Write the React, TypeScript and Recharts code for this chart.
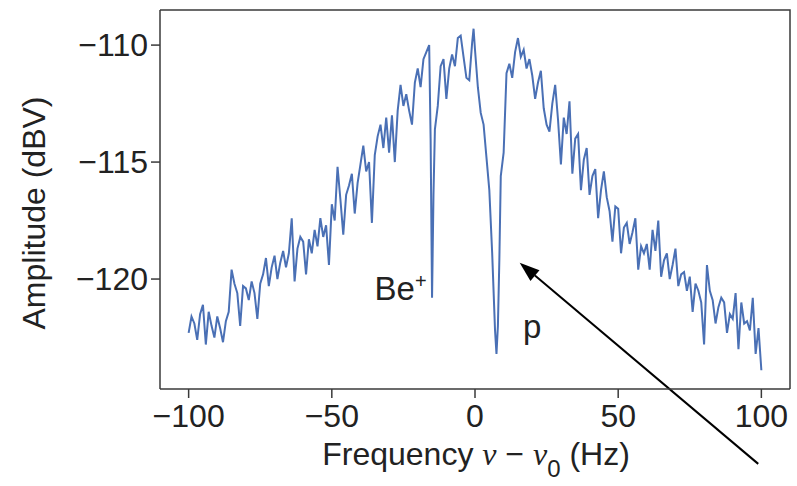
import React from "react";
import {
  LineChart,
  Line,
  XAxis,
  YAxis,
  ReferenceLine,
  ReferenceDot,
} from "recharts";

const X_TICKS = [-100, -50, 0, 50, 100];
const Y_TICKS = [-120, -115, -110];
const X_DOMAIN: [number, number] = [-110, 110];
const Y_DOMAIN: [number, number] = [-124.7, -108.5];

// spectrum, one sample per Hz from -100 to 100
const FREQ_START = -100;
const AMPLITUDE = [
  -122.3, -121.6, -121.9, -122.6, -121.5, -121.1, -122.8, -121.4, -122.0, -122.5,
  -121.6, -122.1, -122.7, -121.8, -121.4, -119.6, -120.2, -120.6, -122.0, -120.3,
  -120.4, -120.9, -120.1, -120.6, -121.7, -120.2, -119.8, -119.1, -120.3, -119.5,
  -119.0, -120.0, -119.3, -118.8, -119.5, -118.9, -117.4, -120.1, -118.7, -118.2,
  -118.4, -119.8, -118.3, -118.9, -117.9, -118.6, -117.4, -118.2, -117.7, -119.4,
  -116.8, -117.5, -115.2, -116.6, -118.1, -116.4, -116.0, -115.5, -117.2, -115.9,
  -115.1, -114.3, -115.4, -115.0, -117.6, -114.7, -113.9, -113.4, -114.4, -113.1,
  -114.6, -113.0, -115.0, -112.8, -111.7, -112.6, -112.1, -112.8, -113.4, -111.6,
  -111.0, -111.8, -110.6, -110.3, -110.0, -120.8, -113.6, -112.6, -110.9, -110.6,
  -112.3, -111.0, -110.4, -110.9, -109.7, -109.6, -110.5, -111.4, -111.5, -109.9,
  -110.2, -111.8, -112.9, -113.4, -114.8, -116.2, -118.9, -122.2, -122.0, -115.6,
  -114.6, -111.2, -110.8, -111.4, -110.3, -109.7, -110.5, -110.2, -111.0, -110.6,
  -111.3, -112.3, -111.6, -111.1, -112.7, -113.4, -113.7, -112.5, -111.7, -113.2,
  -115.1, -113.1, -113.8, -112.4, -115.5, -114.0, -113.8, -116.2, -114.9, -114.4,
  -116.4, -115.6, -115.3, -117.4, -116.2, -115.4, -116.5, -117.1, -118.4, -116.9,
  -117.0, -118.9, -117.8, -117.6, -118.5, -118.0, -117.4, -119.6, -118.6, -118.9,
  -118.5, -119.6, -117.9, -118.8, -117.5, -119.9, -119.2, -118.9, -120.0, -119.4,
  -118.7, -120.3, -119.8, -119.7, -120.5, -119.9, -121.4, -120.2, -120.5, -121.0,
  -122.8, -119.4, -120.5, -120.9, -121.9, -121.2, -120.8, -121.0, -122.3, -121.5,
  -121.7, -120.6, -123.0, -121.0, -121.9, -121.8, -122.2, -120.8, -123.2, -122.1,
  -123.9,
];

// extra samples inside the two narrow dips
const DIP_FREQ = [-15.5, -14.5, -0.5, 7.5, 8.5];
const DIP_AMP = [-114.0, -116.4, -109.3, -123.2, -119.2];

// annotation anchors, in data units
const BE_LABEL = { x: -16.9, y: -120.9 };
const P_LABEL = { x: 16.8, y: -122.5 };
const ARROW_TAIL = { x: 98.9, y: -127.9 };
const ARROW_TIP = { x: 15.6, y: -119.3 };

const data = [
  ...AMPLITUDE.map((amp, i) => ({ freq: FREQ_START + i, amp })),
  ...DIP_FREQ.map((freq, i) => ({ freq, amp: DIP_AMP[i] })),
].sort((a, b) => a.freq - b.freq);

const SANS = "'Liberation Sans', Arial, Helvetica, sans-serif";
const SERIF = "'Liberation Serif', 'Times New Roman', serif";
const INK = "#222";
const AXIS = "#3a3a3a";
const fmt = (v: number) => String(v).replace("-", "\u2212");

const MARGIN = { top: 10, right: 7, left: 0, bottom: 37 };
const Y_AXIS_W = 160;
const X_AXIS_H = 60;
const CHART_W = 797;
const CHART_H = 486;

function Arrow(props: any) {
  const { x1, y1, x2, y2 } = props;
  const a = Math.atan2(y2 - y1, x2 - x1);
  const len = 20;
  const half = 7;
  const bx = x2 - len * Math.cos(a);
  const by = y2 - len * Math.sin(a);
  const px = -Math.sin(a) * half;
  const py = Math.cos(a) * half;
  return (
    <g>
      <line x1={x1} y1={y1} x2={bx} y2={by} stroke="#000" strokeWidth={2} />
      <polygon
        points={`${x2},${y2} ${bx + px},${by + py} ${bx - px},${by - py}`}
        fill="#000"
      />
    </g>
  );
}

export default function App() {
  const plotLeft = MARGIN.left + Y_AXIS_W;
  const plotTop = MARGIN.top;
  const plotRight = CHART_W - MARGIN.right;
  const plotBottom = CHART_H - MARGIN.bottom - X_AXIS_H;
  return (
    <div style={{ position: "absolute", left: 0, top: 0, width: CHART_W, height: CHART_H, background: "#fff", fontFamily: SANS }}>
      <LineChart width={CHART_W} height={CHART_H} data={data} margin={MARGIN}>
        <XAxis
          dataKey="freq"
          type="number"
          domain={X_DOMAIN}
          ticks={X_TICKS}
          allowDataOverflow
          tickFormatter={fmt}
          height={X_AXIS_H}
          stroke={AXIS}
          strokeWidth={1.5}
          tickSize={9}
          tickMargin={6}
          tick={{ fill: INK, fontSize: 32, fontFamily: SANS }}
          label={{
            content: () => (
              <text x={476} y={465} textAnchor="middle" fill={INK} fontSize={32} fontFamily={SANS}>
                Frequency{" "}
                <tspan fontFamily={SERIF} fontStyle="italic">ν</tspan>
                {" \u2212 "}
                <tspan fontFamily={SERIF} fontStyle="italic">ν</tspan>
                <tspan fontSize={24} dy={12}>0</tspan>
                <tspan dy={-12}> (Hz)</tspan>
              </text>
            ),
          }}
        />
        <YAxis
          type="number"
          domain={Y_DOMAIN}
          ticks={Y_TICKS}
          allowDataOverflow
          tickFormatter={fmt}
          width={Y_AXIS_W}
          stroke={AXIS}
          strokeWidth={1.5}
          tickSize={9}
          tickMargin={3}
          tick={{ fill: INK, fontSize: 32, fontFamily: SANS }}
          label={{
            content: () => (
              <text
                x={45}
                y={213}
                transform="rotate(-90 45 213)"
                textAnchor="middle"
                fill={INK}
                fontSize={32}
                fontFamily={SANS}
              >
                Amplitude (dBV)
              </text>
            ),
          }}
        />
        <Line
          type="linear"
          dataKey="amp"
          stroke="#4a70b5"
          strokeWidth={2}
          dot={false}
          isAnimationActive={false}
        />
        <ReferenceDot
          x={BE_LABEL.x}
          y={BE_LABEL.y}
          r={0}
          ifOverflow="visible"
          shape={(p: any) => (
            <text x={p.cx} y={p.cy} textAnchor="end" fill={INK} fontSize={33} fontFamily={SANS}>
              Be<tspan fontSize={20} dy={-12}>+</tspan>
            </text>
          )}
        />
        <ReferenceDot
          x={P_LABEL.x}
          y={P_LABEL.y}
          r={0}
          ifOverflow="visible"
          shape={(p: any) => (
            <text x={p.cx} y={p.cy} textAnchor="start" fill={INK} fontSize={33} fontFamily={SANS}>
              p
            </text>
          )}
        />
        <ReferenceLine
          segment={[ARROW_TAIL, ARROW_TIP]}
          ifOverflow="visible"
          shape={Arrow}
        />
      </LineChart>
      {/* top and right edges of the plot frame */}
      <svg
        width={CHART_W}
        height={CHART_H}
        style={{ position: "absolute", left: 0, top: 0, pointerEvents: "none", zIndex: 5 }}
      >
        <polyline
          points={`${plotLeft},${plotTop} ${plotRight},${plotTop} ${plotRight},${plotBottom}`}
          fill="none"
          stroke={AXIS}
          strokeWidth={1.5}
        />
      </svg>
    </div>
  );
}
